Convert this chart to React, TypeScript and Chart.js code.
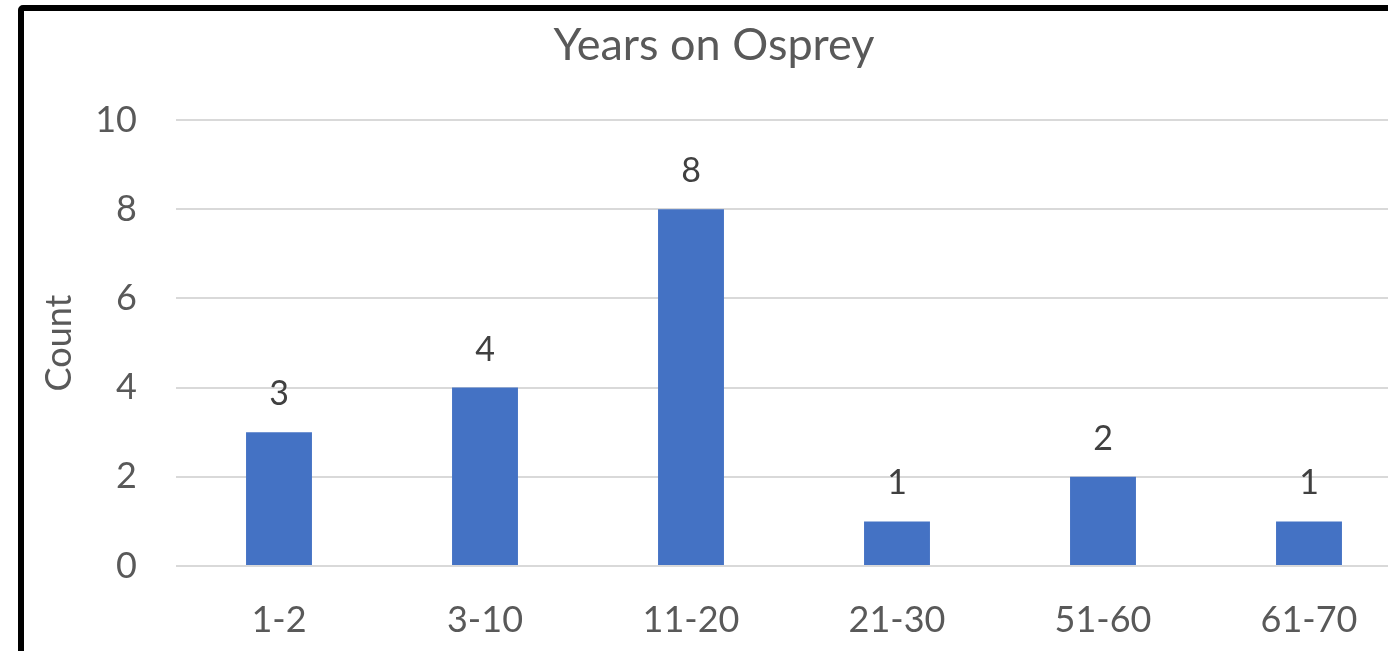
import React, { useEffect, useRef } from "react";
import { Chart, registerables } from "chart.js";

Chart.register(...registerables);

const categories = ["1-2", "3-10", "11-20", "21-30", "51-60", "61-70"];
const counts = [3, 4, 8, 1, 2, 1];
const yTicks = [0, 2, 4, 6, 8, 10];
const chartTitle = "Years on Osprey";
const yAxisTitle = "Count";

const FONT = "Lato, 'Open Sans', sans-serif";

const dataLabelPlugin = {
  id: "dataLabels",
  afterDatasetsDraw(chart: any) {
    const ctx = chart.ctx;
    const meta = chart.getDatasetMeta(0);
    ctx.save();
    ctx.font = `34px ${FONT}`;
    ctx.fillStyle = "#404040";
    ctx.textAlign = "center";
    ctx.textBaseline = "alphabetic";
    meta.data.forEach((bar: any, i: number) => {
      ctx.fillText(String(counts[i]), bar.x, bar.y - 27);
    });
    ctx.restore();
  },
};

export default function App() {
  const canvasRef = useRef<HTMLCanvasElement | null>(null);

  useEffect(() => {
    if (!canvasRef.current) return;
    const chart = new Chart(canvasRef.current, {
      type: "bar",
      data: {
        labels: categories,
        datasets: [
          {
            data: counts,
            backgroundColor: "#4472C4",
            borderWidth: 0,
            barPercentage: 0.32,
            categoryPercentage: 1,
          },
        ],
      },
      options: {
        responsive: false,
        animation: false,
        devicePixelRatio: 1,
        layout: { padding: { left: 16, right: 28, top: 0, bottom: 0 } },
        plugins: {
          legend: { display: false },
          tooltip: { enabled: false },
          title: {
            display: true,
            text: chartTitle,
            color: "#595959",
            font: { family: FONT, size: 45, weight: "normal" },
            padding: { top: 18, bottom: 48 },
          },
        },
        scales: {
          x: {
            grid: { display: false, drawTicks: false },
            border: { display: false },
            ticks: {
              color: "#595959",
              font: { family: FONT, size: 36 },
              padding: 33,
              maxRotation: 0,
            },
            afterFit(scale: any) {
              scale.height = 134;
            },
          },
          y: {
            min: 0,
            max: 10,
            afterBuildTicks(scale: any) {
              scale.ticks = yTicks.map((v) => ({ value: v }));
            },
            grid: { color: "#d9d9d9", lineWidth: 2, drawTicks: false },
            border: { display: false },
            ticks: {
              color: "#595959",
              font: { family: FONT, size: 36 },
              padding: 39,
            },
            title: {
              display: true,
              text: yAxisTitle,
              color: "#595959",
              font: { family: FONT, size: 36, weight: "normal" },
              padding: { top: 22, bottom: 0 },
            },
            afterFit(scale: any) {
              scale.width = 160;
            },
          },
        },
      },
      plugins: [dataLabelPlugin],
    });
    return () => chart.destroy();
  }, []);

  return (
    <div
      style={{
        position: "fixed",
        left: 0,
        top: 0,
        width: 1388,
        height: 651,
        overflow: "hidden",
        background: "#ffffff",
      }}
    >
      <div
        style={{
          position: "absolute",
          left: 18,
          top: 5,
          width: 1500,
          height: 800,
          border: "6px solid #000000",
          borderRadius: 5,
          boxSizing: "border-box",
        }}
      />
      <canvas
        ref={canvasRef}
        width={1440}
        height={700}
        style={{ position: "absolute", left: 0, top: 0, width: 1440, height: 700 }}
      />
    </div>
  );
}
